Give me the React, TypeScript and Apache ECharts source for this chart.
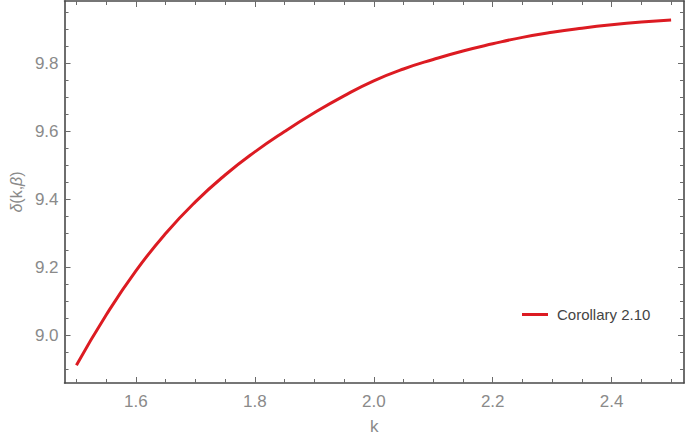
import React, { useEffect, useRef } from "react";
import * as echarts from "echarts";

const kValues = [1.5, 1.55, 1.6, 1.65, 1.7, 1.75, 1.8, 1.85, 1.9, 1.95, 2.0, 2.05, 2.1, 2.15, 2.2, 2.25, 2.3, 2.35, 2.4, 2.45, 2.5];
const deltaValues = [8.912, 9.06, 9.19, 9.3, 9.393, 9.472, 9.54, 9.6, 9.655, 9.705, 9.749, 9.784, 9.812, 9.837, 9.858, 9.877, 9.892, 9.904, 9.914, 9.922, 9.928];

const xMajorTicks = [1.6, 1.8, 2.0, 2.2, 2.4];
const xMinorTicks = [1.5, 1.55, 1.65, 1.7, 1.75, 1.85, 1.9, 1.95, 2.05, 2.1, 2.15, 2.25, 2.3, 2.35, 2.45, 2.5];
const yMajorTicks = [9.0, 9.2, 9.4, 9.6, 9.8];
const yMinorTicks = [8.9, 8.95, 9.05, 9.1, 9.15, 9.25, 9.3, 9.35, 9.45, 9.5, 9.55, 9.65, 9.7, 9.75, 9.85, 9.9, 9.95];

const seriesName = "Corollary 2.10";
const xName = "k";
const yName = "{i|δ}(k,{i|β})";

const X_MIN = 1.48;
const X_MAX = 2.5217;
const Y_MIN = 8.86;
const Y_MAX = 9.984;

const FRAME = "#4a4a4a";
const TICK = "#6a6a6a";
const LABEL = "#8a8a8a";
const RED = "#dc1b22";
const FONT = "'Liberation Sans', Arial, sans-serif";

function xAxisDef(position: "top" | "bottom", major: boolean, withLine: boolean, withLabels: boolean) {
  return {
    type: "value",
    position,
    min: X_MIN,
    max: X_MAX,
    name: withLabels ? xName : "",
    nameLocation: "middle",
    nameGap: 35,
    nameTextStyle: { color: LABEL, fontSize: 17, fontFamily: FONT },
    axisLine: { show: withLine, lineStyle: { color: FRAME, width: 1.6 } },
    axisTick: {
      show: true,
      inside: true,
      length: major ? 6 : 4,
      customValues: major ? xMajorTicks : xMinorTicks,
      lineStyle: { color: TICK, width: 1 },
    },
    axisLabel: {
      show: withLabels,
      customValues: xMajorTicks,
      formatter: (v: number) => v.toFixed(1),
      color: LABEL,
      fontSize: 17,
      fontFamily: FONT,
      margin: 10,
    },
    splitLine: { show: false },
  };
}

function yAxisDef(position: "left" | "right", major: boolean, withLine: boolean, withLabels: boolean) {
  return {
    type: "value",
    position,
    min: Y_MIN,
    max: Y_MAX,
    name: withLabels ? yName : "",
    nameLocation: "middle",
    nameGap: 38,
    nameTextStyle: {
      color: LABEL,
      fontSize: 16,
      fontFamily: FONT,
      rich: { i: { fontStyle: "italic", color: LABEL, fontSize: 16, fontFamily: FONT } },
    },
    axisLine: { show: withLine, lineStyle: { color: FRAME, width: 1.6 } },
    axisTick: {
      show: true,
      inside: true,
      length: major ? 6 : 4,
      customValues: major ? yMajorTicks : yMinorTicks,
      lineStyle: { color: TICK, width: 1 },
    },
    axisLabel: {
      show: withLabels,
      customValues: yMajorTicks,
      formatter: (v: number) => v.toFixed(1),
      color: LABEL,
      fontSize: 17,
      fontFamily: FONT,
      margin: 6,
    },
    splitLine: { show: false },
  };
}

export default function App() {
  const ref = useRef<HTMLDivElement>(null);

  useEffect(() => {
    if (!ref.current) return;
    const chart = echarts.init(ref.current, undefined, { renderer: "svg" });
    chart.setOption({
      animation: false,
      backgroundColor: "#ffffff",
      grid: { left: 59, right: 1, top: 1, bottom: 54, containLabel: false },
      legend: {
        show: true,
        left: 517,
        top: 302,
        itemWidth: 26,
        itemHeight: 3,
        data: [{ name: seriesName, icon: "rect", itemStyle: { color: RED } }],
        textStyle: { color: "#444444", fontSize: 15, fontFamily: FONT, padding: [0, 0, 0, 4] },
      },
      xAxis: [
        xAxisDef("bottom", true, true, true),
        xAxisDef("bottom", false, false, false),
        xAxisDef("top", true, true, false),
        xAxisDef("top", false, false, false),
      ],
      yAxis: [
        yAxisDef("left", true, true, true),
        yAxisDef("left", false, false, false),
        yAxisDef("right", true, true, false),
        yAxisDef("right", false, false, false),
      ],
      series: [
        {
          name: seriesName,
          type: "line",
          xAxisIndex: 0,
          yAxisIndex: 0,
          smooth: true,
          symbol: "none",
          showSymbol: false,
          lineStyle: { color: RED, width: 3 },
          itemStyle: { color: RED },
          data: kValues.map((k, i) => [k, deltaValues[i]]),
        },
      ],
    });
    return () => chart.dispose();
  }, []);

  return (
    <div
      ref={ref}
      style={{ position: "absolute", left: 0, top: 0, width: 685, height: 440 }}
    />
  );
}
